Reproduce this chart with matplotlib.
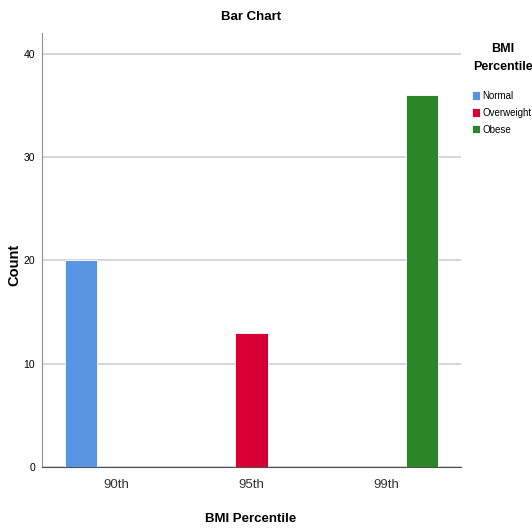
import matplotlib.pyplot as plt
import numpy as np

plt.rcParams['font.family'] = ['Liberation Sans', 'DejaVu Sans']

categorias = ['90th', '95th', '99th']
series = ['Normal', 'Overweight', 'Obese']
valores = [
    [20, 0, 0],   # Normal
    [0, 13, 0],   # Overweight
    [0, 0, 36],   # Obese
]
colores = ['#5896E4', '#D60032', '#2A8628']
y_ticks = [0, 10, 20, 30, 40]

W, H = 532, 529
fig = plt.figure(figsize=(W / 100, H / 100), dpi=100)
ax = fig.add_axes([42 / W, 1 - 467 / H, (461 - 42) / W, (467 - 33) / H])

x = np.arange(len(categorias))
ancho = 0.237
paso = 0.26

# Barras agrupadas, se omiten las de valor cero
for k, (nombre, vals, c) in enumerate(zip(series, valores, colores)):
    xs = [xi + (k - 1) * paso for xi, v in zip(x, vals) if v > 0]
    hs = [v for v in vals if v > 0]
    ax.bar(xs, hs, width=ancho, color=c, edgecolor='white', linewidth=0.6,
           label=nombre, zorder=3)

ax.set_xlim(-0.55, 2.55)
ax.set_ylim(0, 42)
ax.set_yticks(y_ticks)
ax.set_xticks(x)
ax.set_xticklabels(categorias, fontsize=9.5, color='#333333')
ax.tick_params(axis='y', labelsize=7.5, length=0, pad=5)
ax.tick_params(axis='x', length=0, pad=9)

ax.yaxis.grid(True, color='#d0d0d0', linewidth=1.2, zorder=0)
ax.set_axisbelow(True)
for lado in ['top', 'right']:
    ax.spines[lado].set_visible(False)
ax.spines['left'].set_color('#909090')
ax.spines['bottom'].set_color('#505050')

# Textos colocados en pixeles de la figura
fig.text(251 / W, 1 - 17 / H, 'Bar Chart', fontsize=9.5, fontweight='bold',
         ha='center', va='center')
fig.text(14 / W, 1 - 265 / H, 'Count', fontsize=10.5, fontweight='bold',
         ha='center', va='center', rotation=90)
fig.text(251 / W, 1 - 519 / H, 'BMI Percentile', fontsize=9.5, fontweight='bold',
         ha='center', va='center')
fig.text(503 / W, 1 - 58 / H, 'BMI\nPercentile', fontsize=9, fontweight='bold',
         ha='center', va='center', multialignment='center', linespacing=1.6)

leg = fig.legend(loc='upper left', bbox_to_anchor=(472 / W, 1 - 91 / H),
                 frameon=False, fontsize=7, handlelength=0.85, handleheight=0.95,
                 handletextpad=0.2, labelspacing=0.7, borderaxespad=0,
                 borderpad=0)

fig.savefig('out.png', dpi=100)
